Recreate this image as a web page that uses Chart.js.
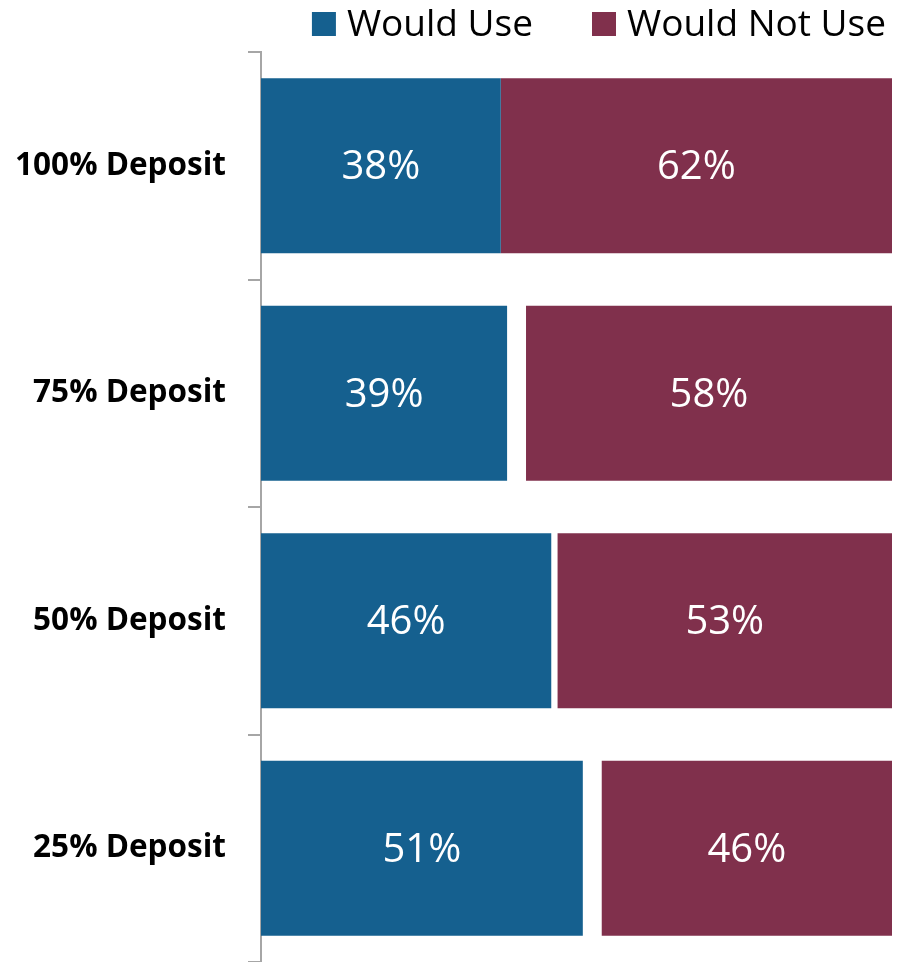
<!DOCTYPE html>
<html>
<head>
<meta charset="utf-8">
<script src="https://cdn.jsdelivr.net/npm/chart.js@4"></script>
<style>
  html, body { margin: 0; padding: 0; background: #fff; }
  #wrap { width: 901px; height: 962px; }
</style>
</head>
<body>
<div id="wrap"><canvas id="depositChart"></canvas></div>
<script>
const categories = ['100% Deposit', '75% Deposit', '50% Deposit', '25% Deposit'];
const wouldUse = [38, 39, 46, 51];
const noAnswerGap = [0, 3, 1, 3];
const wouldNotUse = [62, 58, 53, 46];

const BLUE = '#15608F';
const MAROON = '#80304C';
const AXIS_GREY = '#A6A6A6';
const FONT = "'Open Sans', sans-serif";

// white % labels in the middle of each coloured bar
const barLabels = {
  id: 'barLabels',
  afterDatasetsDraw(chart) {
    const ctx = chart.ctx;
    ctx.save();
    ctx.fillStyle = '#fff';
    ctx.font = '40px ' + FONT;
    ctx.textAlign = 'center';
    ctx.textBaseline = 'middle';
    chart.data.datasets.forEach((ds, i) => {
      if (!ds.showLabels) return;
      chart.getDatasetMeta(i).data.forEach((bar, j) => {
        const p = bar.getCenterPoint();
        ctx.fillText(ds.data[j] + '%', p.x, p.y + 2);
      });
    });
    ctx.restore();
  }
};

// legend drawn by hand so the gap between items can be wider than the vertical padding
const topLegend = {
  id: 'topLegend',
  afterDraw(chart) {
    const ctx = chart.ctx;
    const items = chart.data.datasets.filter(ds => ds.label);
    const box = 24, boxGap = 11, itemGap = 59, right = 886;
    ctx.save();
    ctx.font = '37px ' + FONT;
    ctx.textBaseline = 'alphabetic';
    ctx.textAlign = 'left';
    const widths = items.map(ds => box + boxGap + ctx.measureText(ds.label).width);
    let x = right - widths.reduce((a, b) => a + b, 0) - itemGap * (items.length - 1);
    items.forEach((ds, i) => {
      ctx.fillStyle = ds.backgroundColor;
      ctx.fillRect(x, 12, box, box);
      ctx.fillStyle = '#000';
      ctx.fillText(ds.label, x + box + boxGap, 36);
      x += widths[i] + itemGap;
    });
    ctx.restore();
  }
};

new Chart(document.getElementById('depositChart'), {
  type: 'bar',
  data: {
    labels: categories,
    datasets: [
      { label: 'Would Use', data: wouldUse, backgroundColor: BLUE, showLabels: true },
      { label: '', data: noAnswerGap, backgroundColor: 'rgba(0,0,0,0)' },
      { label: 'Would Not Use', data: wouldNotUse, backgroundColor: MAROON, showLabels: true }
    ]
  },
  options: {
    indexAxis: 'y',
    responsive: true,
    maintainAspectRatio: false,
    animation: false,
    barPercentage: 0.77,
    categoryPercentage: 1,
    layout: { padding: { top: 52, right: 9, bottom: 0, left: 0 } },
    scales: {
      x: { display: false, stacked: true, min: 0, max: 100 },
      y: {
        stacked: true,
        offset: true,
        afterFit(scale) {
          scale.width = 261;
          scale.paddingTop = 0;
          scale.paddingBottom = 0;
        },
        grid: {
          offset: true,
          drawOnChartArea: false,
          tickLength: 13,
          color: AXIS_GREY,
          lineWidth: 2
        },
        border: { color: AXIS_GREY, width: 2 },
        ticks: {
          padding: 22,
          color: '#000',
          font: { family: FONT, size: 31.5, weight: 'bold' }
        }
      }
    },
    plugins: {
      legend: { display: false },
      tooltip: { enabled: false }
    }
  },
  plugins: [barLabels, topLegend]
});
</script>
</body>
</html>
